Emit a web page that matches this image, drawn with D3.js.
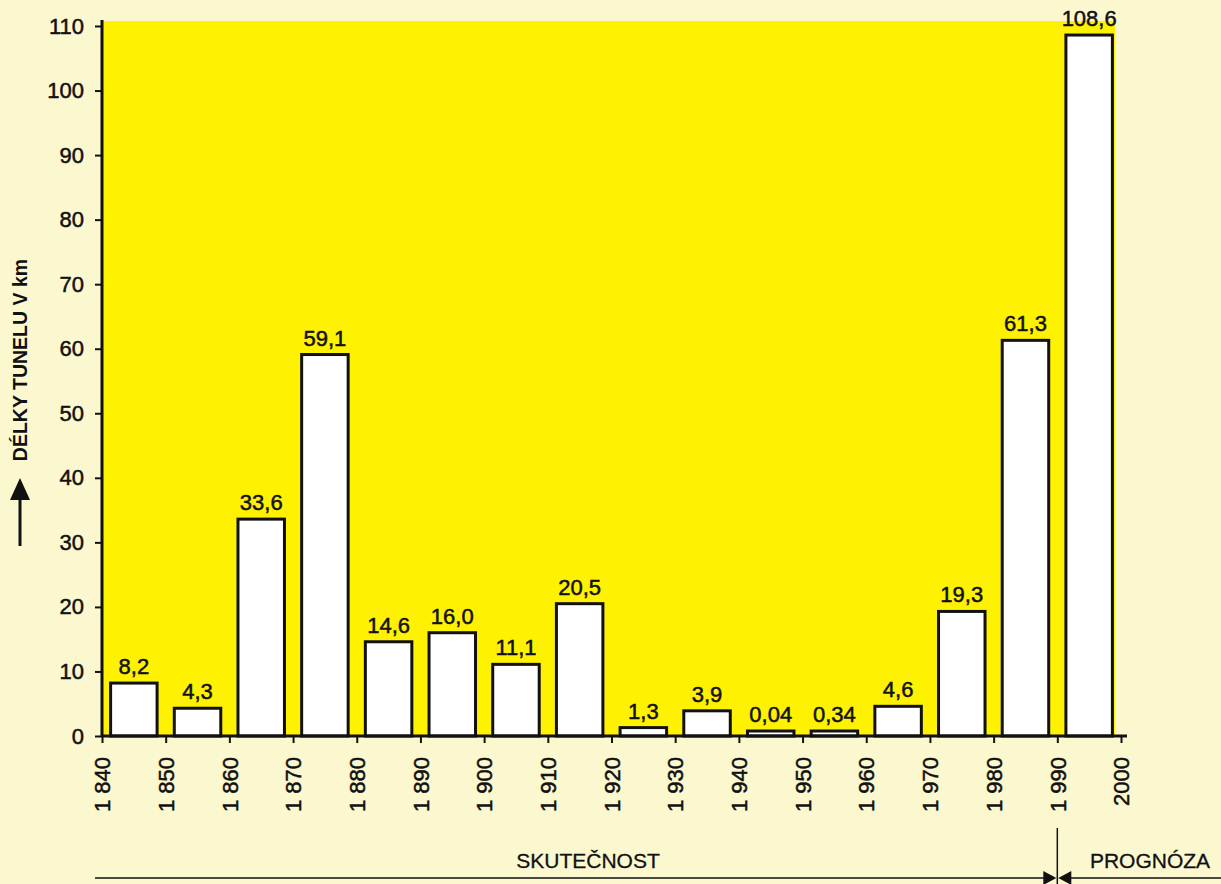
<!DOCTYPE html>
<html>
<head>
<meta charset="utf-8">
<script src="https://cdn.jsdelivr.net/npm/d3@7"></script>
<style>
  body { margin: 0; background: #fbf8cf; }
  svg { display: block; font-family: "Liberation Sans", Arial, sans-serif; }
  .ink { fill: #111; stroke: #111; stroke-width: 0.5px; }
</style>
</head>
<body>
<svg id="chart" width="1221" height="884"></svg>
<script>
// decade start years, tunnel lengths (km) and printed labels
const decades = [1840, 1850, 1860, 1870, 1880, 1890, 1900, 1910, 1920, 1930, 1940, 1950, 1960, 1970, 1980, 1990];
const lengths = [8.2, 4.3, 33.6, 59.1, 14.6, 16.0, 11.1, 20.5, 1.3, 3.9, 0.04, 0.34, 4.6, 19.3, 61.3, 108.6];
const valueLabels = ["8,2", "4,3", "33,6", "59,1", "14,6", "16,0", "11,1", "20,5", "1,3", "3,9", "0,04", "0,34", "4,6", "19,3", "61,3", "108,6"];
const yearTicks = [1840, 1850, 1860, 1870, 1880, 1890, 1900, 1910, 1920, 1930, 1940, 1950, 1960, 1970, 1980, 1990, 2000];
const yearTickLabels = ["1 840", "1 850", "1 860", "1 870", "1 880", "1 890", "1 900", "1 910", "1 920", "1 930", "1 940", "1 950", "1 960", "1 970", "1 980", "1 990", "2000"];
const kmTicks = [0, 10, 20, 30, 40, 50, 60, 70, 80, 90, 100, 110];

const svg = d3.select("#chart");
const plotLeft = 102, plotRight = 1121, plotTop = 26, plotBottom = 736;

const x = d3.scaleLinear().domain([1840, 2000]).range([plotLeft, plotRight]);
const band = d3.scaleBand().domain(decades).range([plotLeft, plotRight])
  .paddingInner(0.27).paddingOuter(0.135);
const y = d3.scaleLinear().domain([0, 110]).range([plotBottom, plotTop]);

// bars keep a visible sliver even for the tiny values
const barTop = (i) => Math.min(y(lengths[i]), plotBottom - 5);

// yellow plot area
svg.append("rect")
  .attr("x", plotLeft).attr("y", 21)
  .attr("width", 1115 - plotLeft).attr("height", plotBottom - 21)
  .attr("fill", "#fff200");

// bars
svg.append("g").selectAll("rect")
  .data(decades)
  .join("rect")
  .attr("x", (d) => band(d))
  .attr("width", band.bandwidth())
  .attr("y", (d, i) => barTop(i))
  .attr("height", (d, i) => plotBottom - barTop(i))
  .attr("fill", "#ffffff")
  .attr("stroke", "#111")
  .attr("stroke-width", 3);

// value labels
svg.append("g").selectAll("text")
  .data(decades)
  .join("text")
  .attr("class", "ink")
  .attr("x", (d) => band(d) + band.bandwidth() / 2)
  .attr("y", (d, i) => barTop(i) - 9)
  .attr("text-anchor", "middle")
  .style("font-size", "22px")
  .text((d, i) => valueLabels[i]);

// y axis
const yAxis = svg.append("g")
  .attr("transform", `translate(${plotLeft},0)`)
  .call(d3.axisLeft(y).tickValues(kmTicks).tickSize(7).tickPadding(11).tickSizeOuter(0));
yAxis.select(".domain").attr("stroke", "#111").attr("stroke-width", 3)
  .attr("d", `M0,${plotTop - 6}V${plotBottom}`);
yAxis.selectAll(".tick line").attr("stroke", "#111").attr("stroke-width", 2);
yAxis.selectAll(".tick text")
  .attr("class", "ink")
  .style("font-size", "22px");

// x axis
const xAxis = svg.append("g")
  .attr("transform", `translate(0,${plotBottom})`)
  .call(d3.axisBottom(x).tickValues(yearTicks).tickSize(7).tickSizeOuter(0)
    .tickFormat((d, i) => yearTickLabels[i]));
xAxis.select(".domain").attr("stroke", "#111").attr("stroke-width", 3)
  .attr("d", `M${plotLeft},0H${plotRight + 6}`);
xAxis.selectAll(".tick line").attr("stroke", "#111").attr("stroke-width", 2);
xAxis.selectAll(".tick text")
  .attr("class", "ink")
  .attr("transform", "rotate(-90)")
  .attr("x", -21).attr("y", 0).attr("dy", "0.35em")
  .attr("text-anchor", "end")
  .style("font-size", "22px");

// y axis title with arrow
svg.append("text")
  .attr("class", "ink")
  .attr("transform", "translate(27,360) rotate(-90)")
  .attr("text-anchor", "middle")
  .style("font-size", "19.5px").style("font-weight", "bold")
  .style("stroke-width", "0px")
  .text("DÉLKY TUNELU V km");
svg.append("line")
  .attr("x1", 20).attr("x2", 20).attr("y1", 546).attr("y2", 496)
  .attr("stroke", "#111").attr("stroke-width", 3);
svg.append("path")
  .attr("d", "M10,500L20,478L30,500Z").attr("fill", "#111");

// bottom period markers
const split = x(1990);
svg.append("line")
  .attr("x1", split).attr("x2", split).attr("y1", 828).attr("y2", 884)
  .attr("stroke", "#111").attr("stroke-width", 1.5);
svg.append("line")
  .attr("x1", 95).attr("x2", split - 6).attr("y1", 878).attr("y2", 878)
  .attr("stroke", "#111").attr("stroke-width", 1.5);
svg.append("line")
  .attr("x1", split + 6).attr("x2", 1221).attr("y1", 878).attr("y2", 878)
  .attr("stroke", "#111").attr("stroke-width", 1.5);
svg.append("path")
  .attr("d", `M${split - 14},871L${split - 1},878L${split - 14},885Z`).attr("fill", "#111");
svg.append("path")
  .attr("d", `M${split + 14},871L${split + 1},878L${split + 14},885Z`).attr("fill", "#111");
svg.append("text")
  .attr("class", "ink")
  .attr("x", 588).attr("y", 868).attr("text-anchor", "middle")
  .style("font-size", "21px").style("stroke-width", "0.3px")
  .text("SKUTEČNOST");
svg.append("text")
  .attr("class", "ink")
  .attr("x", 1150).attr("y", 868).attr("text-anchor", "middle")
  .style("font-size", "21px").style("stroke-width", "0.3px")
  .text("PROGNÓZA");
</script>
</body>
</html>
